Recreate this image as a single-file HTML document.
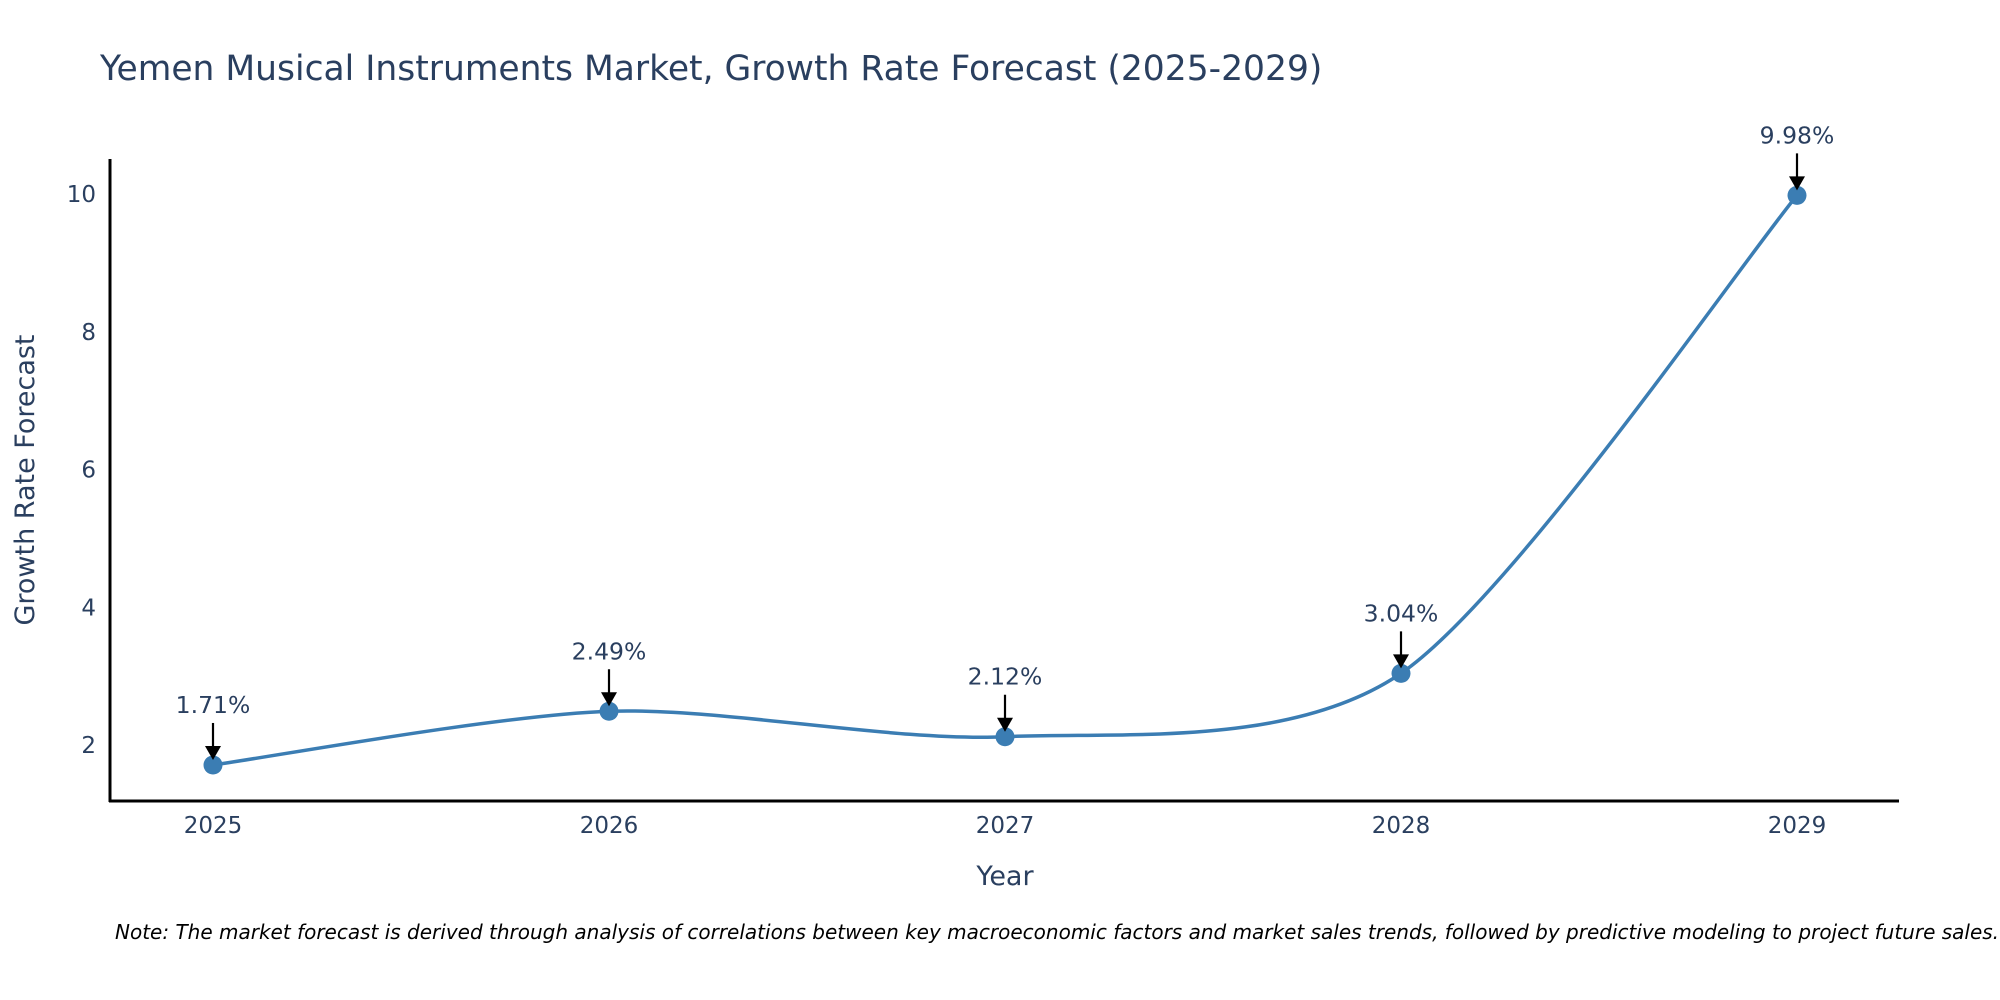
<!DOCTYPE html>
<html><head><meta charset="utf-8"><style>
body{margin:0;background:#fff;}
svg{display:block;font-family:"DejaVu Sans","Liberation Sans",sans-serif;}
</style></head><body>
<svg id="chart" width="2000" height="1000" viewBox="0 0 2000 1000">
<text x="100" y="80" font-size="34.5" fill="#2a3f5f">Yemen Musical Instruments Market, Growth Rate Forecast (2025-2029)</text>
<g id="yticks"></g>
<g id="xticks"></g>
<line x1="110" y1="159" x2="110" y2="802" stroke="#000" stroke-width="3"/>
<line x1="109" y1="801" x2="1899" y2="801" stroke="#000" stroke-width="3"/>
<text x="34" y="480" font-size="27" fill="#2a3f5f" text-anchor="middle" transform="rotate(-90 34 480)">Growth Rate Forecast</text>
<text x="1005" y="885" font-size="27" fill="#2a3f5f" text-anchor="middle">Year</text>
<g id="series"></g>
<g id="annots"></g>
<text x="115" y="939" font-size="20" font-style="italic" fill="#000">Note: The market forecast is derived through analysis of correlations between key macroeconomic factors and market sales trends, followed by predictive modeling to project future sales.</text>
</svg>
<script>
const years = [2025, 2026, 2027, 2028, 2029];
const values = [1.71, 2.49, 2.12, 3.04, 9.98];
const labels = ["1.71%", "2.49%", "2.12%", "3.04%", "9.98%"];
const yTicks = [2, 4, 6, 8, 10];

const NS = "http://www.w3.org/2000/svg";
function xs(i){ return 213 + (1797 - 213) * (i - 2025) / 4; }
function ys(v){ return 745 - (v - 2) * (745 - 194) / 8; }
function mk(tag, attrs, parent){
  const e = document.createElementNS(NS, tag);
  for (const k in attrs) e.setAttribute(k, attrs[k]);
  parent.appendChild(e); return e;
}
const yg = document.getElementById('yticks');
yTicks.forEach(t => {
  const e = mk('text', {x: 96, y: ys(t) + 8, 'font-size': 23, fill: '#2a3f5f', 'text-anchor': 'end'}, yg);
  
  
  e.textContent = t;
});
const xg = document.getElementById('xticks');
years.forEach(y => {
  const e = mk('text', {x: xs(y), y: 833, 'font-size': 23, fill: '#2a3f5f', 'text-anchor': 'middle'}, xg);
  
  
  e.textContent = y;
});
const pts = years.map((y, i) => [xs(y), ys(values[i])]);
let d = `M${pts[0][0]},${pts[0][1]}`;
const t = 0.14;
for (let i = 0; i < pts.length - 1; i++) {
  const p0 = pts[Math.max(0, i - 1)], p1 = pts[i], p2 = pts[i + 1], p3 = pts[Math.min(pts.length - 1, i + 2)];
  const c1 = [p1[0] + (p2[0] - p0[0]) * t, p1[1] + (p2[1] - p0[1]) * t];
  const c2 = [p2[0] - (p3[0] - p1[0]) * t, p2[1] - (p3[1] - p1[1]) * t];
  d += ` C${c1[0]},${c1[1]} ${c2[0]},${c2[1]} ${p2[0]},${p2[1]}`;
}
const sg = document.getElementById('series');
const line = mk('path', {d: d, fill: 'none', stroke: '#3b7db3', 'stroke-width': 3.5}, sg);


const ag = document.getElementById('annots');
pts.forEach((p, i) => {
  const c = mk('circle', {cx: p[0], cy: p[1], r: 9.5, fill: '#3b7db3'}, sg);
  
  
  mk('line', {x1: p[0], y1: p[1] - 42, x2: p[0], y2: p[1] - 16, stroke: '#000', 'stroke-width': 2.2}, ag);
  const ah = mk('polygon', {points: `${p[0]-8},${p[1]-19} ${p[0]+8},${p[1]-19} ${p[0]},${p[1]-5}`, fill: '#000'}, ag);
  
  
  const tx = mk('text', {x: p[0], y: p[1] - 52, 'font-size': 23.5, fill: '#2a3f5f', 'text-anchor': 'middle'}, ag);
  
  
  tx.textContent = labels[i];
});
</script>
</body></html>
